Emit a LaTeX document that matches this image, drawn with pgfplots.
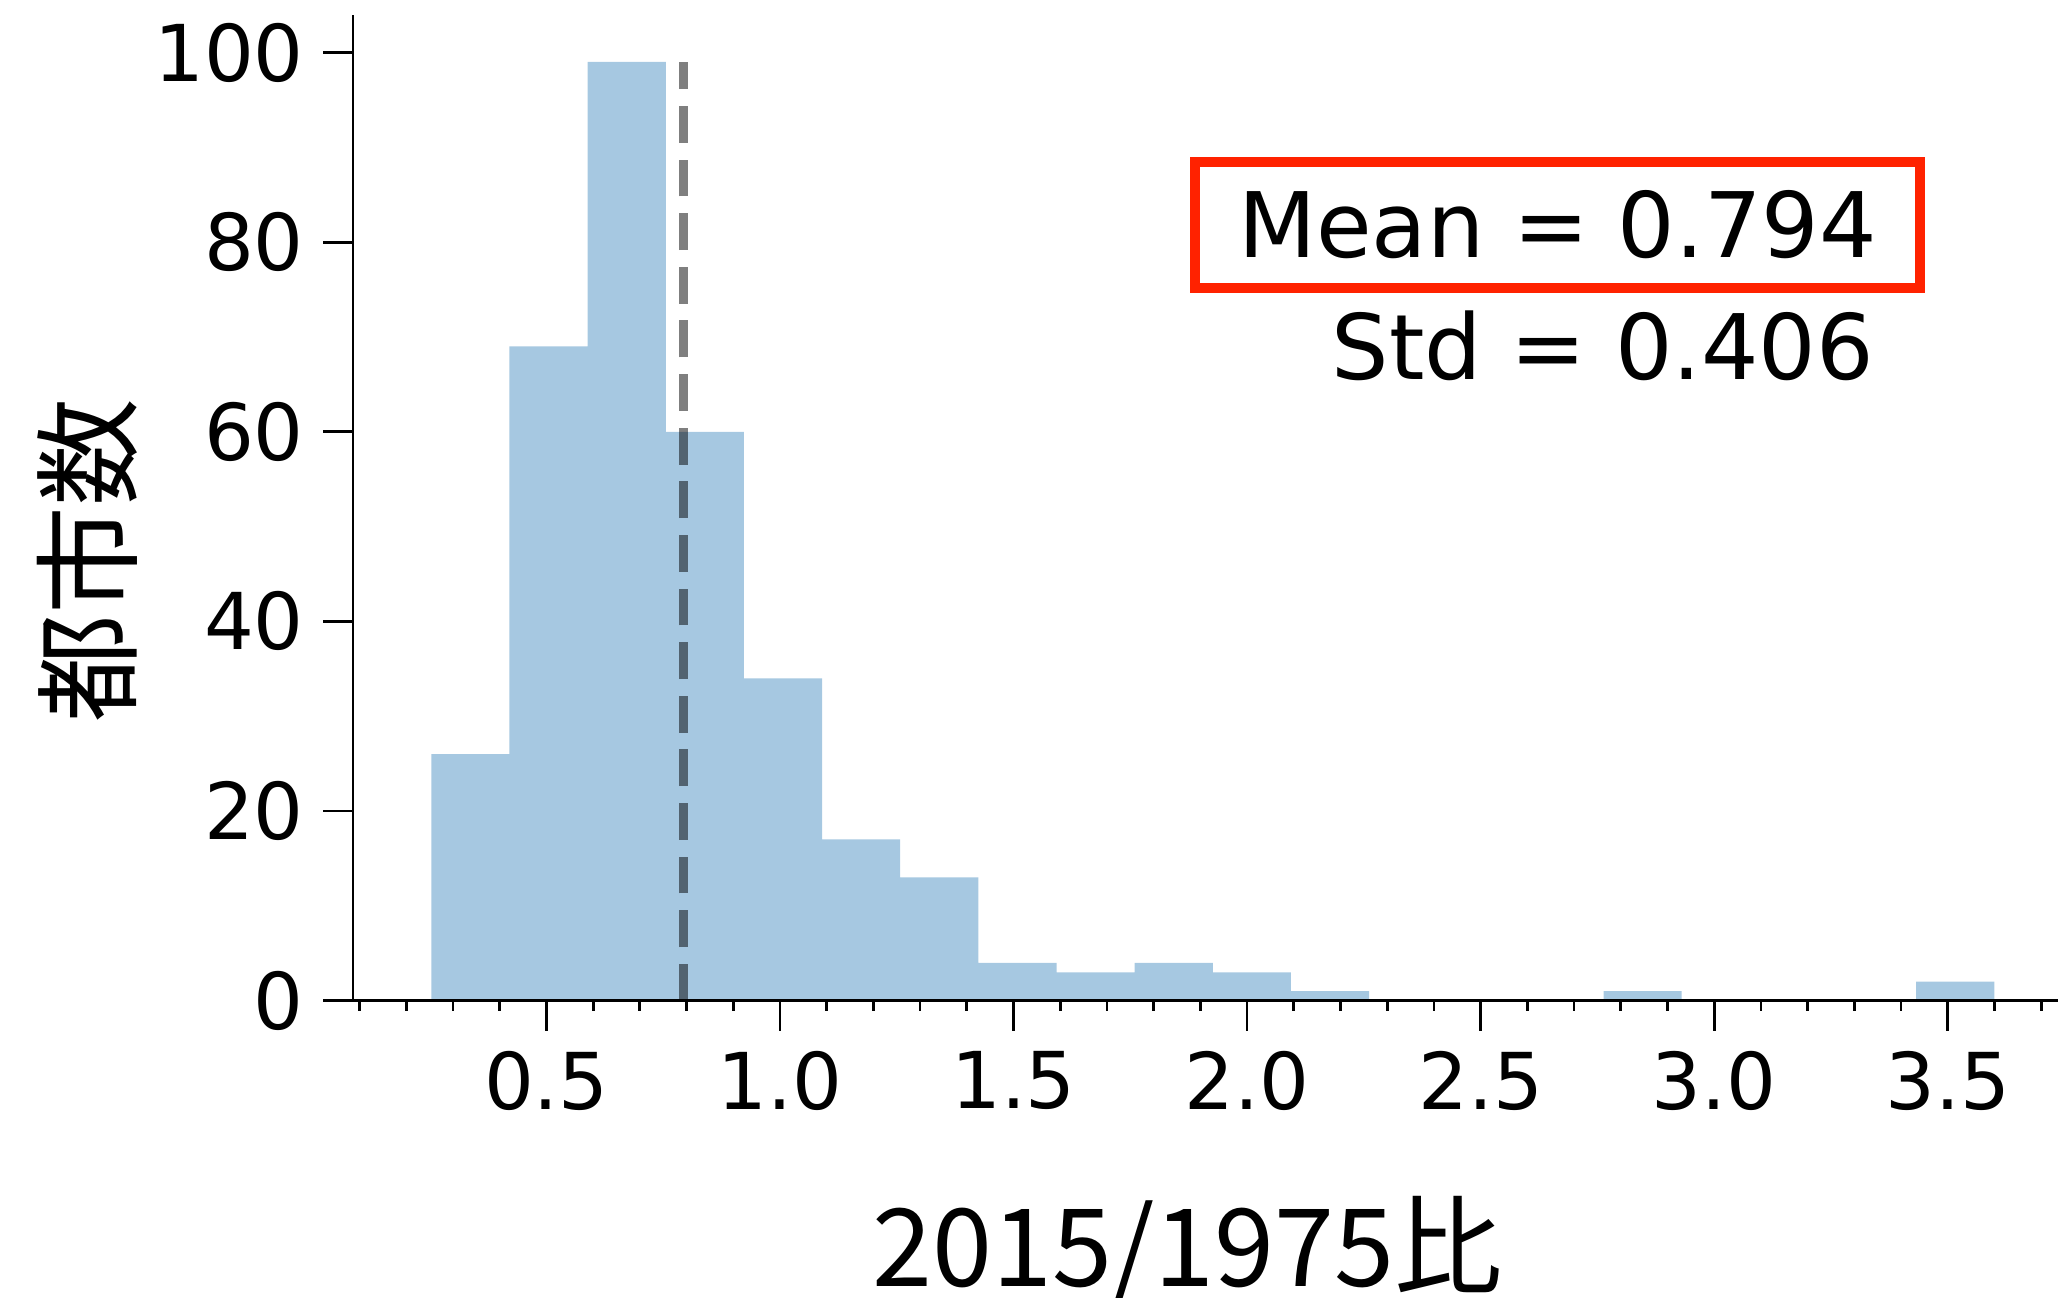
\documentclass[border=0pt]{standalone}
\usepackage{fontspec}
\setmainfont{DejaVu Sans}
\newfontfamily\cjk{Noto Sans CJK JP}
\usepackage{pgfplots}
\pgfplotsset{compat=1.18}
\definecolor{barblue}{RGB}{166,200,225}
\definecolor{boxred}{RGB}{255,34,0}
\begin{document}
\begin{tikzpicture}
\begin{axis}[
  name=ax,
  scale only axis, width=426.1pt, height=246.35pt,
  xmin=0.0862, xmax=3.736, ymin=0, ymax=103.95,
  axis x line*=bottom, axis y line*=left,
  axis line style={line width=0.7pt, -},
  tick align=outside,
  major tick length=7.5pt, minor tick length=2.5pt,
  every tick/.style={black, line width=0.7pt},
  xtick={0.5,1,1.5,2,2.5,3,3.5},
  xticklabels={0.5,1.0,1.5,2.0,2.5,3.0,3.5},
  minor xtick={0.1,0.2,0.3,0.4,0.6,0.7,0.8,0.9,1.1,1.2,1.3,1.4,1.6,1.7,1.8,1.9,2.1,2.2,2.3,2.4,2.6,2.7,2.8,2.9,3.1,3.2,3.3,3.4,3.6,3.7},
  ytick={0,20,40,60,80,100},
  yticklabels={0,20,40,60,80,100},
  ticklabel style={font=\fontsize{19.6}{24}\selectfont, inner sep=0pt},
  xticklabel style={anchor=north, yshift=-5pt},
  yticklabel style={anchor=east, xshift=-4.6pt},
  xlabel={2015/1975比},
  xlabel style={at={(axis description cs:0.4893,-0.2898)}, anchor=base, inner sep=0pt, font=\cjk\fontsize{27}{32}\selectfont},
  ylabel={都市数},
  ylabel style={at={(axis description cs:-0.1557,0.447)}, anchor=center, inner sep=0pt, font=\cjk\fontsize{27}{32}\selectfont},
  axis on top,
]
\addplot[ybar interval, fill=barblue, draw=none] coordinates {
(0.2537,26) (0.4210,69) (0.5883,99) (0.7556,60) (0.9229,34)
(1.0902,17) (1.2575,13) (1.4248,4) (1.5921,3) (1.7594,4)
(1.9267,3) (2.0940,1) (2.2613,0) (2.4286,0) (2.5959,0)
(2.7632,1) (2.9305,0) (3.0978,0) (3.2651,0) (3.4324,2)
(3.5997,2)};
\addplot[black, opacity=0.5, line width=2.33pt, dash pattern=on 9.2pt off 4.2pt] coordinates {(0.794,0) (0.794,99)};
\node[draw=boxred, line width=2.5pt, minimum width=181pt, minimum height=31.5pt, inner sep=0pt, font=\fontsize{22.6}{27}\selectfont] at (rel axis cs:0.7064,0.7869) {Mean = 0.794};
\node[anchor=base east, inner sep=0pt, font=\fontsize{22.6}{27}\selectfont] at (rel axis cs:0.8926,0.6304) {Std = 0.406};
\end{axis}
\pgfresetboundingbox
\useasboundingbox ([xshift=-88.25pt,yshift=-74.15pt]ax.south west) rectangle ([yshift=3.75pt]ax.north east);
\end{tikzpicture}
\end{document}
